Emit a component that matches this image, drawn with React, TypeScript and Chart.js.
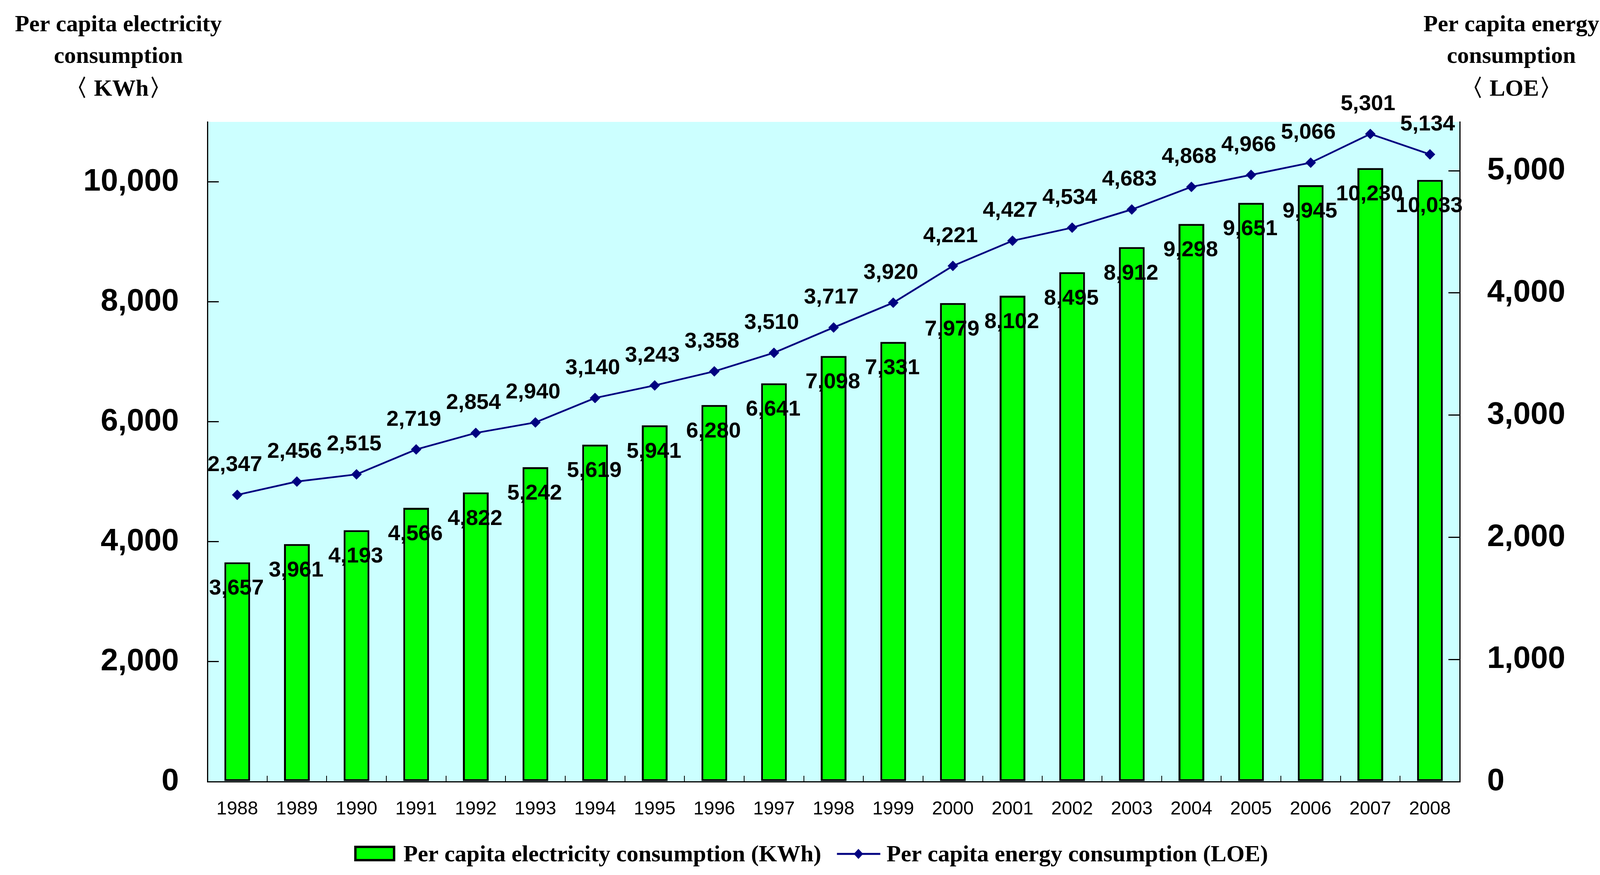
import { useEffect, useRef } from "react";
import { Chart, registerables } from "chart.js";
Chart.register(...registerables);

const years = [
  "1988", "1989", "1990", "1991", "1992", "1993", "1994", "1995", "1996", "1997", "1998",
  "1999", "2000", "2001", "2002", "2003", "2004", "2005", "2006", "2007", "2008",
];
const electricity = [
  3657, 3961, 4193, 4566, 4822, 5242, 5619, 5941, 6280, 6641, 7098,
  7331, 7979, 8102, 8495, 8912, 9298, 9651, 9945, 10230, 10033,
];
const energy = [
  2347, 2456, 2515, 2719, 2854, 2940, 3140, 3243, 3358, 3510, 3717,
  3920, 4221, 4427, 4534, 4683, 4868, 4966, 5066, 5301, 5134,
];
const leftTicks = [0, 2000, 4000, 6000, 8000, 10000];
const rightTicks = [0, 1000, 2000, 3000, 4000, 5000];
const leftTitle = ["Per capita electricity", "consumption", "\u3008 KWh\u3009"];
const rightTitle = ["Per capita energy", "consumption", "\u3008 LOE\u3009"];
const legendLabels = [
  "Per capita electricity consumption (KWh)",
  "Per capita energy consumption (LOE)",
];

const SANS = '"Liberation Sans", Arial, sans-serif';
const SERIF = '"Liberation Serif", "Times New Roman", serif';
const GREEN = "#00ff00";
const NAVY = "#000080";
const fmt = (v: number) => v.toLocaleString("en-US");

// plot background, axis titles and the legend
const decorations = {
  id: "decorations",
  beforeDraw(chart: any) {
    const { ctx, chartArea: a } = chart;
    ctx.save();
    ctx.fillStyle = "#ccffff";
    ctx.fillRect(a.left, a.top, a.right - a.left, a.bottom - a.top);
    ctx.restore();
  },
  afterDraw(chart: any) {
    const ctx = chart.ctx;
    ctx.save();
    ctx.fillStyle = "#000";
    ctx.font = `bold 60px ${SERIF}`;
    ctx.textAlign = "center";
    ctx.textBaseline = "alphabetic";
    const baselines = [80, 161, 245];
    leftTitle.forEach((t, i) => ctx.fillText(t, 303, baselines[i]));
    rightTitle.forEach((t, i) => ctx.fillText(t, 3869, baselines[i]));

    // legend
    ctx.textAlign = "left";
    const w1 = ctx.measureText(legendLabels[0]).width;
    const w2 = ctx.measureText(legendLabels[1]).width;
    const total = 105 + 21 + w1 + 40 + 111 + 16 + w2;
    let x = chart.width / 2 + 20 - total / 2;
    ctx.fillStyle = GREEN;
    ctx.fillRect(x, 2165, 105, 40);
    ctx.strokeStyle = "#000";
    ctx.lineWidth = 6;
    ctx.strokeRect(x + 3, 2168, 99, 34);
    x += 126;
    ctx.fillStyle = "#000";
    ctx.fillText(legendLabels[0], x, 2205);
    x += w1 + 40;
    ctx.strokeStyle = NAVY;
    ctx.lineWidth = 5;
    ctx.beginPath();
    ctx.moveTo(x, 2186);
    ctx.lineTo(x + 111, 2186);
    ctx.stroke();
    const cx = x + 55;
    ctx.fillStyle = NAVY;
    ctx.beginPath();
    ctx.moveTo(cx, 2173);
    ctx.lineTo(cx + 12, 2186);
    ctx.lineTo(cx, 2199);
    ctx.lineTo(cx - 12, 2186);
    ctx.closePath();
    ctx.fill();
    x += 127;
    ctx.fillStyle = "#000";
    ctx.fillText(legendLabels[1], x, 2205);
    ctx.restore();
  },
};

// data labels above points and at bar tops
const valueLabels = {
  id: "valueLabels",
  afterDatasetsDraw(chart: any) {
    const ctx = chart.ctx;
    ctx.save();
    ctx.font = `bold 56px ${SANS}`;
    ctx.fillStyle = "#000";
    ctx.textAlign = "center";
    ctx.textBaseline = "alphabetic";
    chart.getDatasetMeta(0).data.forEach((el: any, i: number) => {
      ctx.fillText(fmt(electricity[i]), el.x - 2, el.y + 63 + 20);
    });
    chart.getDatasetMeta(1).data.forEach((el: any, i: number) => {
      ctx.fillText(fmt(energy[i]), el.x - 6, el.y - 81 + 20);
    });
    ctx.restore();
  },
};

export default function App() {
  const canvasRef = useRef<HTMLCanvasElement>(null);

  useEffect(() => {
    const chart = new Chart(canvasRef.current!, {
      type: "bar",
      data: {
        labels: years,
        datasets: [
          {
            type: "bar",
            label: legendLabels[0],
            data: electricity,
            backgroundColor: GREEN,
            borderColor: "#000",
            borderWidth: 5,
            borderSkipped: false,
            categoryPercentage: 1,
            barPercentage: 0.432,
            yAxisID: "y",
            order: 1,
          },
          {
            type: "line",
            label: legendLabels[1],
            data: energy,
            borderColor: NAVY,
            borderWidth: 4.5,
            tension: 0,
            pointStyle: "rectRot",
            pointRadius: 13,
            pointBackgroundColor: NAVY,
            pointBorderColor: NAVY,
            pointBorderWidth: 1,
            yAxisID: "y1",
            order: 0,
          },
        ],
      },
      options: {
        responsive: true,
        maintainAspectRatio: false,
        devicePixelRatio: 1,
        animation: false,
        layout: { padding: { top: 312, left: 0, right: 0, bottom: 0 } },
        plugins: {
          legend: { display: false },
          tooltip: { enabled: false },
        },
        scales: {
          x: {
            grid: {
              display: true,
              drawOnChartArea: false,
              drawTicks: true,
              tickLength: -15,
              color: "#000",
              lineWidth: 2,
              offset: true,
            },
            border: { display: true, color: "#000", width: 3 },
            ticks: {
              color: "#000",
              font: { family: SANS, size: 48 },
              padding: 57,
              maxRotation: 0,
              autoSkip: false,
            },
            afterFit: (s: any) => {
              s.height = 239;
            },
          },
          y: {
            position: "left",
            min: 0,
            max: 11000,
            afterBuildTicks: (s: any) => {
              s.ticks = leftTicks.map((value) => ({ value }));
            },
            ticks: {
              color: "#000",
              font: { family: SANS, size: 80, weight: "bold" },
              padding: 102,
              callback: (v: any) => fmt(Number(v)),
            },
            grid: {
              drawOnChartArea: false,
              tickLength: -29,
              color: "#000",
              lineWidth: 3,
            },
            border: { display: true, color: "#000", width: 3 },
            afterFit: (s: any) => {
              s.width = 531;
            },
          },
          y1: {
            position: "right",
            min: 0,
            max: 5400,
            afterBuildTicks: (s: any) => {
              s.ticks = rightTicks.map((value) => ({ value }));
            },
            ticks: {
              color: "#000",
              font: { family: SANS, size: 80, weight: "bold" },
              padding: 99,
              callback: (v: any) => fmt(Number(v)),
            },
            grid: {
              drawOnChartArea: false,
              tickLength: -29,
              color: "#000",
              lineWidth: 3,
            },
            border: { display: true, color: "#000", width: 3 },
            afterFit: (s: any) => {
              s.width = 376;
            },
          },
        },
      },
      plugins: [decorations, valueLabels],
    });

    return () => {
      chart.destroy();
    };
  }, []);

  return (
    <div
      style={{
        position: "fixed",
        left: 0,
        top: 0,
        width: 4113,
        height: 2240,
        background: "#fff",
      }}
    >
      <canvas ref={canvasRef} />
    </div>
  );
}
